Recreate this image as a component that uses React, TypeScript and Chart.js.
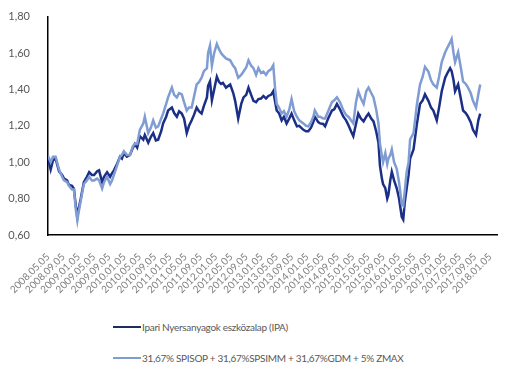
import React, { useEffect, useRef } from "react";
import { Chart, registerables } from "chart.js";

Chart.register(...registerables);

// x positions: months since 2008.05.05
const months = [
  0, 0.7, 1.3, 2.0, 2.9, 3.7, 4.2, 5.0, 5.5, 6.3, 6.8, 7.3, 7.7, 8.0, 8.6, 9.4, 10.2, 10.8, 11.5, 12.1,
  12.9, 13.4, 14.2, 14.7, 15.5, 16.3, 16.8, 17.3, 18.1, 18.9, 19.4, 19.9, 20.7, 21.5, 22.3, 22.8, 23.4, 24.1,
  25.0, 25.4, 26.3, 27.0, 27.6, 28.3, 28.9, 29.7, 30.2, 31.0, 31.5, 32.5, 33.1, 33.8, 34.4, 35.1, 35.7, 36.4,
  37.0, 37.7, 38.3, 39.0, 39.6, 40.3, 40.9, 41.7, 42.0, 42.5, 43.0, 43.6, 44.3, 44.9, 45.4, 45.9, 46.7, 47.8,
  48.6, 49.1, 49.9, 50.7, 51.3, 52.0, 52.6, 53.3, 53.9, 54.6, 55.2, 55.9, 56.5, 57.2, 57.8, 58.5, 59.1, 59.6,
  60.0, 60.6, 61.3, 61.9, 62.6, 63.3, 63.9, 64.6, 65.3, 65.9, 67.0, 67.7, 68.3, 69.0, 69.6, 70.0, 70.9, 71.4,
  72.2, 72.7, 73.5, 74.5, 75.1, 75.8, 76.6, 77.5, 78.2, 78.8, 79.5, 80.1, 80.8, 81.4, 82.1, 82.8, 83.5, 84.1,
  84.8, 85.4, 86.1, 86.7, 87.1, 87.6, 87.9, 88.5, 89.0, 89.3, 89.8, 90.2, 90.8, 91.5, 92.1, 92.8, 93.2, 93.6,
  94.1, 94.6, 95.0, 95.9, 96.8, 97.6, 98.3, 98.9, 99.8, 100.5, 101.1, 102.0, 102.6, 103.3, 104.2, 104.8, 105.5,
  105.9, 106.4, 106.8, 107.6, 108.3, 108.9, 109.6, 110.2, 110.9, 111.5, 112.3, 112.9, 113.4,
];

const ipa = [
  1.02, 0.96, 1.01, 1.02, 0.95, 0.93, 0.91, 0.9, 0.875, 0.87, 0.855, 0.76, 0.7, 0.74, 0.8, 0.89, 0.92, 0.945, 0.93, 0.93,
  0.95, 0.955, 0.89, 0.92, 0.945, 0.92, 0.94, 0.955, 0.99, 1.03, 1.02, 1.05, 1.03, 1.04, 1.08, 1.1, 1.08, 1.143,
  1.124, 1.15, 1.107, 1.14, 1.16, 1.12, 1.124, 1.17, 1.213, 1.25, 1.284, 1.3, 1.27, 1.25, 1.28, 1.267, 1.24, 1.16,
  1.2, 1.23, 1.26, 1.3, 1.28, 1.267, 1.31, 1.356, 1.42, 1.444, 1.34, 1.4, 1.47, 1.44, 1.43, 1.436, 1.41, 1.427,
  1.38, 1.337, 1.24, 1.32, 1.356, 1.37, 1.41, 1.37, 1.337, 1.33, 1.347, 1.35, 1.364, 1.35, 1.364, 1.37, 1.39, 1.33,
  1.284, 1.27, 1.23, 1.25, 1.213, 1.24, 1.267, 1.23, 1.197, 1.2, 1.178, 1.17, 1.17, 1.19, 1.22, 1.25, 1.22, 1.213,
  1.21, 1.197, 1.24, 1.284, 1.29, 1.32, 1.29, 1.25, 1.23, 1.204, 1.17, 1.143, 1.21, 1.267, 1.24, 1.224, 1.25, 1.267,
  1.24, 1.224, 1.17, 1.107, 0.98, 0.91, 0.88, 0.857, 0.8, 0.82, 0.9, 0.947, 0.9, 0.857, 0.8, 0.7, 0.685, 0.78,
  0.857, 0.93, 1.02, 1.07, 1.213, 1.32, 1.34, 1.373, 1.337, 1.3, 1.284, 1.23, 1.3, 1.39, 1.464, 1.49, 1.517,
  1.5, 1.45, 1.39, 1.427, 1.35, 1.284, 1.27, 1.25, 1.22, 1.178, 1.15, 1.23, 1.267,
];

const benchmark = [
  1.035, 1.0, 1.03, 1.03, 0.96, 0.92, 0.9, 0.89, 0.87, 0.85, 0.85, 0.74, 0.68, 0.72, 0.79, 0.88, 0.9, 0.92, 0.9, 0.9,
  0.91, 0.9, 0.855, 0.89, 0.92, 0.88, 0.9, 0.93, 0.98, 1.03, 1.04, 1.06, 1.04, 1.04, 1.09, 1.1, 1.1, 1.178,
  1.213, 1.25, 1.16, 1.19, 1.23, 1.19, 1.197, 1.24, 1.267, 1.32, 1.356, 1.41, 1.37, 1.356, 1.38, 1.373, 1.33, 1.284,
  1.3, 1.3, 1.36, 1.427, 1.44, 1.464, 1.5, 1.517, 1.6, 1.64, 1.53, 1.6, 1.65, 1.62, 1.6, 1.587, 1.57, 1.56,
  1.53, 1.517, 1.464, 1.48, 1.498, 1.52, 1.56, 1.53, 1.517, 1.48, 1.517, 1.49, 1.498, 1.48, 1.5, 1.51, 1.533, 1.4,
  1.32, 1.3, 1.267, 1.28, 1.25, 1.29, 1.347, 1.28, 1.25, 1.23, 1.213, 1.2, 1.197, 1.22, 1.25, 1.284, 1.25, 1.25,
  1.24, 1.24, 1.28, 1.33, 1.34, 1.356, 1.33, 1.284, 1.26, 1.25, 1.23, 1.213, 1.33, 1.39, 1.35, 1.32, 1.39, 1.41,
  1.38, 1.356, 1.29, 1.213, 1.1, 1.036, 1.0, 1.05, 0.99, 1.02, 1.04, 1.07, 1.0, 0.964, 0.89, 0.77, 0.76, 0.84,
  0.947, 1.0, 1.124, 1.16, 1.32, 1.427, 1.47, 1.524, 1.498, 1.45, 1.427, 1.41, 1.47, 1.55, 1.604, 1.63, 1.658,
  1.677, 1.6, 1.55, 1.604, 1.52, 1.444, 1.43, 1.41, 1.38, 1.337, 1.3, 1.373, 1.427,
];

const tickLabels = [
  "2008.05.05", "2008.09.05", "2009.01.05", "2009.05.05", "2009.09.05", "2010.01.05", "2010.05.05",
  "2010.09.05", "2011.01.05", "2011.05.05", "2011.09.05", "2012.01.05", "2012.05.05", "2012.09.05",
  "2013.01.05", "2013.05.05", "2013.09.05", "2014.01.05", "2014.05.05", "2014.09.05", "2015.01.05",
  "2015.05.05", "2015.09.05", "2016.01.05", "2016.05.05", "2016.09.05", "2017.01.05", "2017.05.05",
  "2017.09.05", "2018.01.05",
];

const seriesNames = [
  "Ipari Nyersanyagok eszközalap (IPA)",
  "31,67% SPISOP + 31,67%SPSIMM + 31,67%GDM + 5% ZMAX",
];

const DARK = "#1B2F86";
const LIGHT = "#7F9CD3";
const FONT = "Lato, 'Open Sans', sans-serif";

export default function App() {
  const ref = useRef<HTMLCanvasElement>(null);

  useEffect(() => {
    if (!ref.current) return;
    const chart = new Chart(ref.current, {
      type: "line",
      data: {
        datasets: [
          {
            label: seriesNames[1],
            data: months.map((m, i) => ({ x: m, y: benchmark[i] })),
            borderColor: LIGHT,
            borderWidth: 2.5,
            pointRadius: 0,
            tension: 0,
          },
          {
            label: seriesNames[0],
            data: months.map((m, i) => ({ x: m, y: ipa[i] })),
            borderColor: DARK,
            borderWidth: 2.5,
            pointRadius: 0,
            tension: 0,
          },
        ],
      },
      options: {
        animation: false,
        responsive: false,
        layout: { padding: { top: 10, right: 18, left: 0, bottom: 0 } },
        plugins: { legend: { display: false }, tooltip: { enabled: false } },
        scales: {
          x: {
            type: "linear",
            min: 0,
            max: 117.8,
            grid: { display: false },
            border: { display: true, color: "#000", width: 1.5 },
            afterBuildTicks: (scale: any) => {
              scale.ticks = tickLabels.map((_, i) => ({ value: i * 4 }));
            },
            afterFit: (scale: any) => {
              scale.height = 65;
            },
            ticks: {
              autoSkip: false,
              minRotation: 45,
              maxRotation: 45,
              padding: 8,
              color: "#7f7f7f",
              font: { family: FONT, size: 10 },
              callback: (v: any) => tickLabels[Math.round(Number(v) / 4)] ?? "",
            },
          },
          y: {
            min: 0.6,
            max: 1.8,
            grid: { display: false },
            border: { display: true, color: "#000", width: 1.5 },
            afterFit: (scale: any) => {
              scale.width = 48;
            },
            ticks: {
              stepSize: 0.2,
              padding: 10,
              color: "#595959",
              font: { family: FONT, size: 11 },
              callback: (v: any) => Number(v).toFixed(2).replace(".", ","),
            },
          },
        },
      },
    });
    return () => chart.destroy();
  }, []);

  const legendRow = (name: string, color: string, top: number) => (
    <div
      style={{
        position: "absolute",
        left: 113,
        top: top - 8,
        height: 16,
        display: "flex",
        alignItems: "center",
        fontFamily: FONT,
        fontSize: 10,
        letterSpacing: "-0.3px",
        color: "#595959",
        whiteSpace: "nowrap",
      }}
    >
      <span style={{ display: "inline-block", width: 28, height: 2, background: color, marginRight: 1 }} />
      <span>{name}</span>
    </div>
  );

  return (
    <div style={{ position: "absolute", left: 0, top: 0, width: 515, height: 388, background: "#fff" }}>
      <canvas ref={ref} width={515} height={300} style={{ position: "absolute", left: 0, top: 0 }} />
      {legendRow(seriesNames[0], "#1F2D5C", 327)}
      {legendRow(seriesNames[1], LIGHT, 358)}
    </div>
  );
}
